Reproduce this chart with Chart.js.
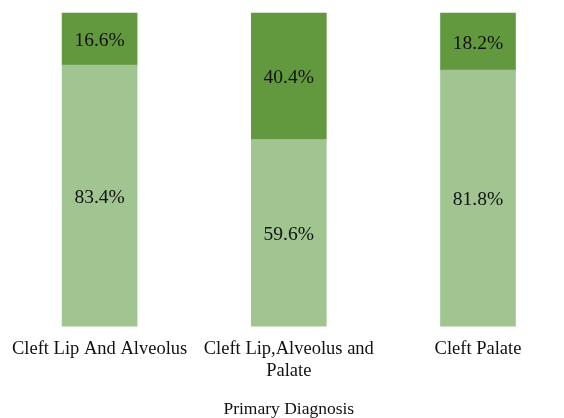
<!DOCTYPE html>
<html>
<head>
<meta charset="utf-8">
<script src="https://cdn.jsdelivr.net/npm/chart.js@4.4.0/dist/chart.umd.min.js"></script>
<style>
  html, body { margin: 0; padding: 0; background: #fff; }
  #wrap { width: 564px; height: 418px; }
</style>
</head>
<body>
<div id="wrap"><canvas id="diagChart"></canvas></div>
<script>
const categories = [['Cleft Lip And Alveolus'], ['Cleft Lip,Alveolus and', 'Palate'], ['Cleft Palate']];
const lowerValues = [83.4, 59.6, 81.8];
const upperValues = [16.6, 40.4, 18.2];
const axisTitle = 'Primary Diagnosis';

const serif = '"Liberation Serif", "DejaVu Serif", serif';

// write the percentages in the middle of each bar piece
const barLabels = {
  id: 'barLabels',
  afterDatasetsDraw(chart) {
    const ctx = chart.ctx;
    ctx.save();
    ctx.font = '19.5px ' + serif;
    ctx.fillStyle = '#111';
    ctx.textAlign = 'center';
    ctx.textBaseline = 'middle';
    chart.data.datasets.forEach((ds, i) => {
      chart.getDatasetMeta(i).data.forEach((bar, j) => {
        const mid = (bar.y + bar.base) / 2 + 2;
        ctx.fillText(ds.data[j].toFixed(1) + '%', bar.x, mid);
      });
    });
    ctx.restore();
  }
};

new Chart(document.getElementById('diagChart'), {
  type: 'bar',
  data: {
    labels: categories,
    datasets: [
      { data: lowerValues, backgroundColor: '#a1c590', barThickness: 75, clip: false },
      { data: upperValues, backgroundColor: '#62993e', barThickness: 75, clip: false }
    ]
  },
  options: {
    responsive: true,
    maintainAspectRatio: false,
    animation: false,
    layout: { padding: { left: 98, right: 86, top: 13, bottom: 0 } },
    plugins: { legend: { display: false }, tooltip: { enabled: false } },
    scales: {
      x: {
        stacked: true,
        offset: false,
        grid: { display: false, drawTicks: false },
        border: { display: false },
        ticks: { color: '#111', font: { family: serif, size: 18.5, lineHeight: 1.2 }, padding: 12, maxRotation: 0, autoSkip: false },
        title: { display: true, text: axisTitle, color: '#111', font: { family: serif, size: 17.5, lineHeight: 1 }, padding: { top: 6, bottom: 0 } }
      },
      y: {
        stacked: true,
        display: false,
        min: 0,
        max: 100
      }
    }
  },
  plugins: [barLabels]
});
</script>
</body>
</html>
